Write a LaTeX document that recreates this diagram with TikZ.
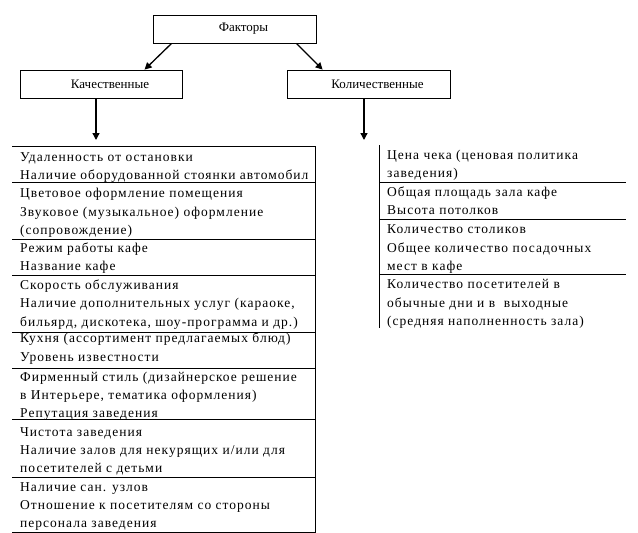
\documentclass[tikz,border=0pt]{standalone}
\usepackage{fontspec}
\setmainfont{Liberation Serif}
\newfontfamily\listfont{Liberation Serif}[LetterSpace=7.5]
\usetikzlibrary{arrows.meta}
\newcommand{\fsz}{\fontsize{13pt}{16pt}\selectfont}
\newcommand{\lsz}{\listfont\fontsize{13.5pt}{16pt}\selectfont}
\tikzset{
  box/.style={draw, line width=0.8pt, minimum height=28pt, inner sep=0pt, font=\fsz},
  ln/.style={anchor=base west, inner sep=0pt, font=\lsz},
  arr/.style={line width=1.3pt, -{Triangle[length=7pt,width=7pt]}},
  rule/.style={line width=0.8pt}
}
\begin{document}
\begin{tikzpicture}[x=1pt,y=-1pt]
\useasboundingbox (0,0) rectangle (638,533);
% top boxes
\node[box, minimum width=163pt] (f) at (234.5,29) {\hspace{18pt}Факторы};
\node[box, minimum width=162pt] (q) at (101,84) {\hspace{18pt}Качественные};
\node[box, minimum width=163pt] (k) at (368.5,84) {\hspace{18pt}Количественные};
\draw[arr] ([xshift=19pt]f.south west) -- ([xshift=125pt]q.north west);
\draw[arr] ([xshift=-20pt]f.south east) -- ([xshift=36pt]k.north west);
\coordinate (qa) at (96,140);
\coordinate (ka) at (364,140);
\draw[arr] (q.south -| qa) -- (qa);
\draw[arr] (k.south -| ka) -- (ka);
% left list frame
\coordinate (ltl) at (12,146);
\coordinate (ltr) at (315,146);
\coordinate (lbl) at (12,532);
\coordinate (lbr) at (315,532);
\draw[rule] (ltl) -- (ltr) -- (lbr) -- (lbl);
\foreach \y in {182,239,275,332,368,419,477} \draw[rule] (12,\y) -- (315,\y);
% left list text
\node[ln] (a1) at (20,161.5) {Удаленность от остановки};
\node[ln] (a2) at (20,179.5) {Наличие оборудованной стоянки автомобил};
\node[ln] (b1) at (20,197.5) {Цветовое оформление помещения};
\node[ln] (b2) at (20,216) {Звуковое (музыкальное) оформление};
\node[ln] (b3) at (20,234.5) {(сопровождение)};
\node[ln] (c1) at (20,252.5) {Режим работы кафе};
\node[ln] (c2) at (20,270.5) {Название кафе};
\node[ln] (d1) at (20,289.5) {Скорость обслуживания};
\node[ln] (d2) at (20,307.5) {Наличие дополнительных услуг (караоке,};
\node[ln] (d3) at (20,326) {бильярд, дискотека, шоу-программа и др.)};
\node[ln] (e1) at (20,342.5) {Кухня (ассортимент предлагаемых блюд)};
\node[ln] (e2) at (20,361) {Уровень известности};
\node[ln] (g1) at (20,381) {Фирменный стиль (дизайнерское решение};
\node[ln] (g2) at (20,399) {в Интерьере, тематика оформления)};
\node[ln] (g3) at (20,417) {Репутация заведения};
\node[ln] (h1) at (20,436.5) {Чистота заведения};
\node[ln] (h2) at (20,454.5) {Наличие залов для некурящих и/или для};
\node[ln] (h3) at (20,472.5) {посетителей с детьми};
\node[ln] (i1) at (20,491) {Наличие сан. узлов};
\node[ln] (i2) at (20,509) {Отношение к посетителям со стороны};
\node[ln] (i3) at (20,527) {персонала заведения};
% right list frame
\coordinate (rt) at (379,145);
\coordinate (rb) at (379,328);
\draw[rule] (rt) -- (rb);
\foreach \y in {182,219,274} \draw[rule] (379,\y) -- (626,\y);
% right list text
\node[ln] (p1) at (387,159.5) {Цена чека (ценовая политика};
\node[ln] (p2) at (387,177.5) {заведения)};
\node[ln] (r1) at (387,196.5) {Общая площадь зала кафе};
\node[ln] (r2) at (387,214.5) {Высота потолков};
\node[ln] (s1) at (387,233.5) {Количество столиков};
\node[ln] (s2) at (387,252.5) {Общее количество посадочных};
\node[ln] (s3) at (387,270.5) {мест в кафе};
\node[ln] (t1) at (387,288.5) {Количество посетителей в};
\node[ln] (t2) at (387,307.5) {обычные дни и в\ \ выходные};
\node[ln] (t3) at (387,325.5) {(средняя наполненность зала)};
\end{tikzpicture}
\end{document}
